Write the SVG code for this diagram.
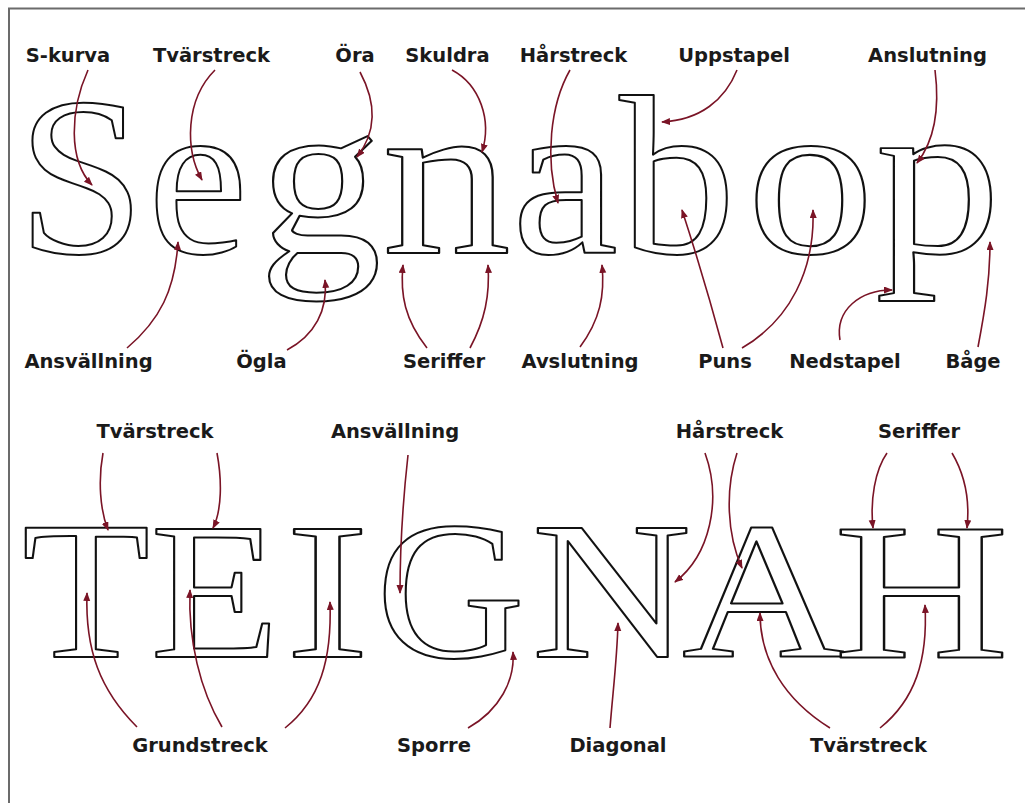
<svg xmlns="http://www.w3.org/2000/svg" width="1025" height="803" viewBox="0 0 1025 803">
<style>
.lbl{font-family:"DejaVu Sans","Liberation Sans",sans-serif;font-weight:bold;font-size:19.5px;fill:#1a1a1a;text-anchor:middle}
.big{font-family:"Liberation Serif","DejaVu Serif",serif;fill:#fff;stroke:#111;stroke-width:2;stroke-linejoin:round;text-anchor:middle}
.lc{font-size:226px}
.uc{font-size:196px}
.arr{fill:none;stroke:#7a1426;stroke-width:1.6;marker-end:url(#ah)}
</style>
<defs>
<marker id="ah" markerUnits="userSpaceOnUse" markerWidth="10" markerHeight="8" refX="8" refY="3.5" orient="auto">
<path d="M0,0 L9,3.5 L0,7 z" fill="#7a1426"/>
</marker>
</defs>
<rect x="0" y="0" width="1025" height="803" fill="#fff"/>
<path d="M9,803 V8.5 H1025" fill="none" stroke="#6b6b6b" stroke-width="2"/>

<g id="letters-lower">
<text id="L-S" class="big lc" transform="translate(81,253) scale(1.02,1)">S</text>
<text id="L-e" class="big lc" transform="translate(198,253)">e</text>
<text id="L-g" class="big lc" transform="translate(320,253) scale(1.09,1)">g</text>
<text id="L-n" class="big lc" transform="translate(446.5,253) scale(1.14,1)">n</text>
<text id="L-a" class="big lc" transform="translate(565,253) scale(1.06,1)">a</text>
<text id="L-b" class="big lc" transform="translate(677.5,253) scale(1.03,1)">b</text>
<text id="L-o" class="big lc" transform="translate(810.5,253) scale(1.13,1)">o</text>
<text id="L-p" class="big lc" transform="translate(938,253) scale(1.11,1)">p</text>
</g>

<g id="letters-upper">
<text id="U-T" class="big uc" transform="translate(86,657) scale(1.07,1)">T</text>
<text id="U-E" class="big uc" transform="translate(215,657) scale(1.08,1)">E</text>
<text id="U-I" class="big uc" transform="translate(327.5,657) scale(1.3,1)">I</text>
<text id="U-G" class="big uc" transform="translate(450.5,657) scale(1.05,1)">G</text>
<text id="U-N" class="big uc" transform="translate(611.5,657) scale(1.13,1)">N</text>
<text id="U-A" class="big uc" transform="translate(763.5,657) scale(1.15,1)">A</text>
<text id="U-H" class="big uc" transform="translate(921.5,657) scale(1.24,1)">H</text>
</g>

<g id="connectors">
<path class="arr" d="M88,70 C70,110 68,160 92,185"/>
<path class="arr" d="M215,70 C185,100 185,150 202,180"/>
<path class="arr" d="M360,72 C375,100 378,130 357,157"/>
<path class="arr" d="M452,70 C480,85 492,120 482,152"/>
<path class="arr" d="M570,70 C550,105 545,160 558,203"/>
<path class="arr" d="M737,70 C725,100 700,120 662,122"/>
<path class="arr" d="M935,70 C940,110 935,140 917,163"/>
<path class="arr" d="M127,348 C160,320 175,290 178,242"/>
<path class="arr" d="M287,350 C315,335 328,310 325,280"/>
<path class="arr" d="M427,348 C405,320 400,295 403,265"/>
<path class="arr" d="M470,348 C485,320 490,295 488,265"/>
<path class="arr" d="M580,347 C600,320 605,295 602,265"/>
<path class="arr" d="M723,348 C710,300 695,250 682,210"/>
<path class="arr" d="M742,348 C790,320 815,270 813,210"/>
<path class="arr" d="M840,340 C835,310 860,290 892,290"/>
<path class="arr" d="M978,347 C985,310 990,280 990,242"/>
<path class="arr" d="M103,453 C98,480 100,510 108,530"/>
<path class="arr" d="M217,453 C222,480 222,510 213,528"/>
<path class="arr" d="M408,455 C403,500 400,550 400,593"/>
<path class="arr" d="M137,727 C100,690 85,650 87,593"/>
<path class="arr" d="M222,727 C200,690 188,640 190,590"/>
<path class="arr" d="M285,728 C320,700 332,660 330,602"/>
<path class="arr" d="M468,728 C500,710 515,680 513,652"/>
<path class="arr" d="M610,728 C613,690 617,660 618,623"/>
<path class="arr" d="M705,453 C722,500 710,555 675,582"/>
<path class="arr" d="M737,453 C725,490 727,535 742,568"/>
<path class="arr" d="M887,453 C875,470 870,500 873,528"/>
<path class="arr" d="M952,453 C965,475 970,500 967,528"/>
<path class="arr" d="M830,728 C785,700 760,660 760,613"/>
<path class="arr" d="M880,728 C915,700 928,660 925,605"/>
</g>

<g id="labels">
<text class="lbl" x="68" y="62">S-kurva</text>
<text class="lbl" x="211.5" y="62">Tvärstreck</text>
<text class="lbl" x="355" y="62">Öra</text>
<text class="lbl" x="447.5" y="62">Skuldra</text>
<text class="lbl" x="573.5" y="62">Hårstreck</text>
<text class="lbl" x="734" y="62">Uppstapel</text>
<text class="lbl" x="927.5" y="62">Anslutning</text>
<text class="lbl" x="88.5" y="368">Ansvällning</text>
<text class="lbl" x="261.5" y="368">Ögla</text>
<text class="lbl" x="444" y="368">Seriffer</text>
<text class="lbl" x="580" y="368">Avslutning</text>
<text class="lbl" x="725" y="368">Puns</text>
<text class="lbl" x="845" y="368">Nedstapel</text>
<text class="lbl" x="973" y="368">Båge</text>
<text class="lbl" x="155" y="438">Tvärstreck</text>
<text class="lbl" x="395" y="438">Ansvällning</text>
<text class="lbl" x="729.5" y="438">Hårstreck</text>
<text class="lbl" x="919" y="438">Seriffer</text>
<text class="lbl" x="200" y="752">Grundstreck</text>
<text class="lbl" x="434" y="752">Sporre</text>
<text class="lbl" x="618" y="752">Diagonal</text>
<text class="lbl" x="868.5" y="752">Tvärstreck</text>
</g>
</svg>
